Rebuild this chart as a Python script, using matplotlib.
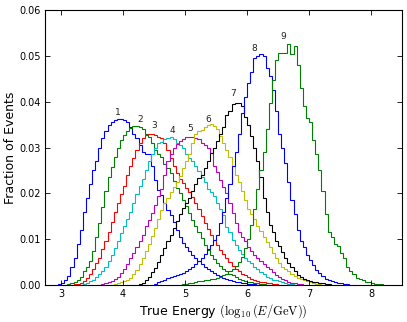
import numpy as np
import matplotlib
matplotlib.use("Agg")
import matplotlib.pyplot as plt

plt.rcParams['mathtext.fontset'] = 'cm'
plt.rcParams['font.family'] = ['DejaVu Sans']

BIN = 0.05
labels = ['1', '2', '3', '4', '5', '6', '7', '8', '9']
colors = ['b', 'g', 'r', 'c', 'm', 'y', 'k', 'b', 'g']
starts = [2.95, 3.1, 3.2, 3.3, 3.6, 3.8, 4.25, 4.5, 4.9]

h1 = [0.0002, 0.0005, 0.001, 0.002, 0.004, 0.006, 0.009, 0.012, 0.016, 0.019,
      0.022, 0.025, 0.027, 0.030, 0.032, 0.0335, 0.035, 0.0355, 0.036, 0.0363, 0.0362,
      0.036, 0.0355, 0.0345, 0.033, 0.032, 0.0305, 0.029, 0.0285, 0.0285, 0.026,
      0.023, 0.0207, 0.0196, 0.018, 0.0164, 0.0153, 0.0137, 0.012, 0.0105, 0.0092,
      0.0082, 0.0074, 0.0066, 0.0059, 0.0052, 0.0046, 0.004, 0.0035, 0.003, 0.0026,
      0.0022, 0.0019, 0.0016, 0.0013, 0.0011, 0.0009, 0.0007, 0.0006, 0.0005, 0.0004,
      0.0003, 0.0002, 0.0002, 0.0001]
h2 = [0.0002, 0.0004, 0.0007, 0.001, 0.0018, 0.003, 0.004, 0.0052,
      0.0075, 0.0105, 0.0135, 0.017, 0.0205, 0.0235, 0.0258, 0.028, 0.0298, 0.0316,
      0.0328, 0.0336, 0.0343, 0.0347, 0.0347, 0.0345, 0.034, 0.033, 0.0322, 0.031,
      0.0295, 0.0285, 0.028, 0.0265, 0.0255, 0.0244, 0.0228, 0.0212, 0.020, 0.0185,
      0.0172, 0.0158, 0.0142, 0.0128, 0.0115, 0.0103, 0.0088, 0.0076, 0.0065, 0.0056,
      0.0048, 0.0041, 0.0035, 0.003, 0.0025, 0.0021, 0.0017, 0.0014, 0.0011, 0.0009,
      0.0007, 0.0006, 0.0005, 0.0004, 0.0003, 0.0002, 0.0001]
h3 = [0.0002, 0.0003, 0.0005, 0.0008, 0.0015, 0.0025,
      0.0035, 0.0048, 0.006, 0.0078, 0.0095, 0.0115, 0.0137, 0.016, 0.018, 0.0198,
      0.0215, 0.024, 0.026, 0.0278, 0.0295, 0.031, 0.032, 0.0328, 0.033, 0.033,
      0.0328, 0.0322, 0.032, 0.031, 0.0295, 0.0278, 0.026, 0.0245, 0.0232, 0.0222,
      0.0212, 0.0202, 0.0192, 0.018, 0.0165, 0.015, 0.0135, 0.0122, 0.011, 0.0098,
      0.0088, 0.0077, 0.0067, 0.0058, 0.005, 0.0042, 0.0036, 0.003, 0.0025, 0.0021,
      0.0017, 0.0014, 0.0011, 0.0009, 0.0007, 0.0006, 0.0005, 0.0004, 0.0003, 0.0002, 0.0001]
h4 = [0.0001, 0.0003, 0.0005, 0.0008,
      0.0012, 0.0017, 0.0023, 0.003, 0.004, 0.0052, 0.0065, 0.008, 0.0097, 0.0113,
      0.0128, 0.0145, 0.016, 0.018, 0.0198, 0.0215, 0.0232, 0.025, 0.027, 0.0285,
      0.0298, 0.031, 0.0312, 0.0318, 0.032, 0.0322, 0.0318, 0.031, 0.0305, 0.0298,
      0.0285, 0.0278, 0.027, 0.026, 0.0248, 0.0236, 0.0225, 0.021, 0.0202, 0.0195,
      0.018, 0.0165, 0.0153, 0.0127, 0.0115, 0.0098, 0.0088, 0.0076, 0.0068, 0.006,
      0.0053, 0.0047, 0.004, 0.0034, 0.0028, 0.0023, 0.0018, 0.0015, 0.0012, 0.001,
      0.0008, 0.0006, 0.0004, 0.0003, 0.0002, 0.0001]
h5 = [0.0001, 0.0002, 0.0004, 0.0006, 0.0009, 0.0013, 0.0018, 0.0027,
      0.0035, 0.0045, 0.0058, 0.007, 0.0082, 0.0095, 0.011, 0.0128, 0.0142, 0.0158,
      0.0175, 0.0195, 0.021, 0.024, 0.027, 0.0285, 0.0298, 0.0308, 0.0315, 0.0318,
      0.0323, 0.0323, 0.0322, 0.032, 0.0318, 0.031, 0.0305, 0.030, 0.0288, 0.026,
      0.0247, 0.023, 0.0214, 0.020, 0.018, 0.0157, 0.0135, 0.0116, 0.0105, 0.0095,
      0.0083, 0.0074, 0.0066, 0.006, 0.0052, 0.0046, 0.004, 0.0034, 0.0028, 0.0022,
      0.0017, 0.0013, 0.001, 0.0007, 0.0005, 0.0004, 0.0003, 0.0002, 0.0001]
h6 = [0.0001, 0.0002, 0.0004, 0.0006,
      0.0008, 0.0011, 0.0016, 0.0023, 0.0033, 0.0045, 0.006, 0.0075, 0.009, 0.0108,
      0.0125, 0.0145, 0.0163, 0.0178, 0.019, 0.0202, 0.0213, 0.0225, 0.0238, 0.0255,
      0.027, 0.0285, 0.031, 0.033, 0.0335, 0.0338, 0.0345, 0.035, 0.0352, 0.0348,
      0.034, 0.0325, 0.031, 0.0295, 0.028, 0.026, 0.024, 0.0225, 0.0205, 0.0185,
      0.0165, 0.0155, 0.0145, 0.0128, 0.0117, 0.0105, 0.0093, 0.0083, 0.007, 0.0058,
      0.0048, 0.004, 0.0035, 0.003, 0.0025, 0.002, 0.0016, 0.0013, 0.001, 0.0008,
      0.0006, 0.0005, 0.0003, 0.0002, 0.0001]
h7 = [0.0002, 0.0005, 0.001, 0.0017, 0.0028,
      0.0038, 0.005, 0.0065, 0.008, 0.0095, 0.011, 0.0125, 0.014, 0.0155, 0.0168,
      0.018, 0.019, 0.0205, 0.022, 0.0233, 0.024, 0.0255, 0.027, 0.0288, 0.030,
      0.0315, 0.033, 0.0345, 0.037, 0.038, 0.0395, 0.0398, 0.0397, 0.039, 0.0367,
      0.035, 0.0325, 0.0298, 0.027, 0.0235, 0.019, 0.016, 0.013, 0.0115, 0.0095,
      0.0085, 0.0072, 0.006, 0.0048, 0.004, 0.003, 0.0022, 0.0018, 0.0014, 0.0011,
      0.0009, 0.0007, 0.0006, 0.0005, 0.0004, 0.0003, 0.0002]
h8 = [0.0003, 0.0006, 0.0009, 0.0012, 0.0015, 0.0017, 0.002, 0.0022, 0.0024, 0.0027,
      0.003, 0.0034, 0.0039, 0.0045, 0.0052, 0.006, 0.0068, 0.0078, 0.0088, 0.0098,
      0.011, 0.0135, 0.016, 0.019, 0.022, 0.026, 0.029, 0.033, 0.0375, 0.041,
      0.044, 0.0465, 0.0495, 0.050, 0.0504, 0.050, 0.0474, 0.0455, 0.0425, 0.038,
      0.033, 0.030, 0.0266, 0.0225, 0.0185, 0.0155, 0.012, 0.0095, 0.0082, 0.0065,
      0.0055, 0.0044, 0.0033, 0.0026, 0.0019, 0.0014, 0.0011, 0.0008, 0.0006, 0.0005,
      0.0004, 0.0003, 0.0002]
h9 = [0.0001, 0.0002,
      0.0003, 0.0004, 0.0005, 0.0006, 0.0008, 0.0009, 0.001, 0.0012, 0.0013, 0.0014,
      0.0016, 0.0018, 0.0021, 0.0025, 0.003, 0.0035, 0.0042, 0.005, 0.0062, 0.008,
      0.010, 0.013, 0.0165, 0.021, 0.025, 0.029, 0.034, 0.0397, 0.0447, 0.049,
      0.0506, 0.0506, 0.0506, 0.0526, 0.0505, 0.0522, 0.048, 0.043, 0.039, 0.0365,
      0.0355, 0.0316, 0.0285, 0.025, 0.0205, 0.0155, 0.0115, 0.0105, 0.009, 0.0085,
      0.007, 0.006, 0.004, 0.003, 0.0025, 0.0015, 0.0013, 0.001, 0.0007, 0.0007,
      0.0005, 0.0003, 0.0002, 0.0002]
series = [h1, h2, h3, h4, h5, h6, h7, h8, h9]

label_x = [3.92, 4.275, 4.50, 4.79, 5.085, 5.375, 5.777, 6.116, 6.584]
label_y = [0.0377, 0.0362, 0.0349, 0.0338, 0.0342, 0.0362, 0.0417, 0.0517, 0.0543]

xticks = [3, 4, 5, 6, 7, 8]
yticks = [0.00, 0.01, 0.02, 0.03, 0.04, 0.05, 0.06]

fig = plt.figure(figsize=(4.07, 3.22), dpi=100)
ax = fig.add_axes([45 / 407, 37 / 322, 357 / 407, 275 / 322])

for vals, s, c in zip(series, starts, colors):
    v = np.asarray(vals)
    edges = s + BIN * np.arange(len(v) + 1)
    ax.stairs(v, edges, color=c, linewidth=0.8)

for t, x, y in zip(labels, label_x, label_y):
    ax.text(x, y, t, ha='center', va='center', fontsize=6.5, color='#222222')

ax.set_xlim(2.74, 8.5)
ax.set_ylim(0, 0.06)
ax.set_xticks(xticks)
ax.set_yticks(yticks)
ax.set_yticklabels([f"{v:.2f}" for v in yticks])
ax.tick_params(direction='in', top=True, right=True, length=3.5, width=0.6,
               labelsize=7, pad=3)
for sp in ax.spines.values():
    sp.set_linewidth(0.8)
ax.set_xlabel(r'True Energy $(\log_{10}(E/\mathrm{GeV}))$', fontsize=9, labelpad=2)
ax.set_ylabel('Fraction of Events', fontsize=9, labelpad=1.5)

fig.savefig('out.png', dpi=100)
